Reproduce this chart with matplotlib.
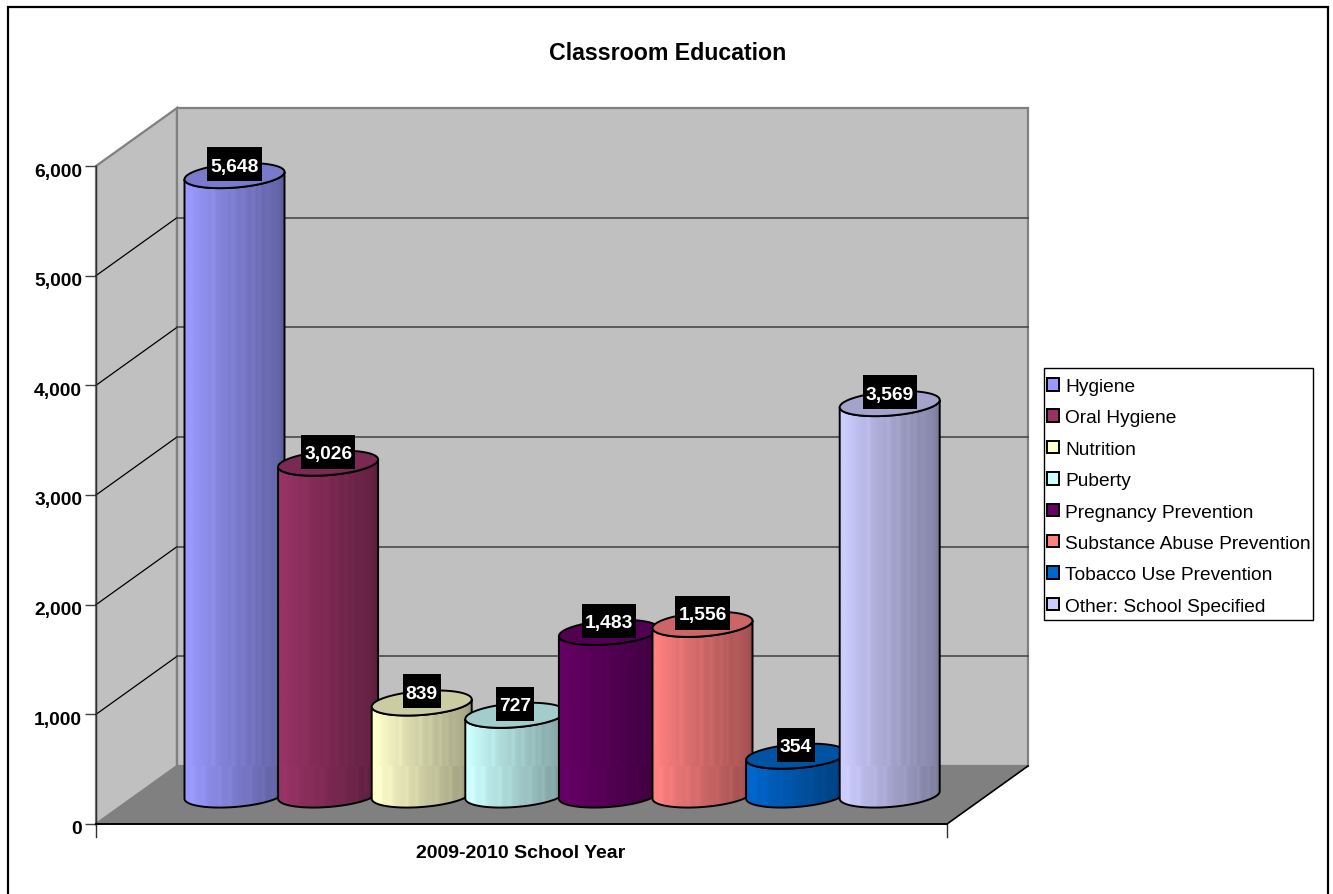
import numpy as np
import matplotlib
matplotlib.use('Agg')
import matplotlib.pyplot as plt
from matplotlib.patches import Polygon, PathPatch, Rectangle, Patch
from matplotlib.path import Path
from matplotlib.transforms import IdentityTransform, ScaledTranslation
from matplotlib.colors import to_rgb

plt.rcParams['font.family'] = ['Liberation Sans', 'DejaVu Sans']

# data
topics = ['Hygiene', 'Oral Hygiene', 'Nutrition', 'Puberty', 'Pregnancy Prevention',
          'Substance Abuse Prevention', 'Tobacco Use Prevention', 'Other: School Specified']
students = [5648, 3026, 839, 727, 1483, 1556, 354, 3569]
colors = ['#9999FF', '#993366', '#FFFFCC', '#CCFFFF', '#660066', '#FF8080', '#0066CC', '#CCCCFF']
y_ticks = [0, 1000, 2000, 3000, 4000, 5000, 6000]

W, H = 1333, 895
DEPTH_X, DEPTH_Y = 81, 58   # how far the back wall sits behind the front plane, px
BAR_SHIFT = 29              # bars stand half way back on the floor
HALF_W, TILT, MINOR = 50, 3.7, 12

fig = plt.figure(figsize=(W / 100, H / 100), dpi=100)
fig.patch.set_facecolor('white')
# chart border, the bottom edge is cut off in the source
fig.add_artist(Rectangle((8 / W, -10 / H), 1320 / W, 897 / H, transform=fig.transFigure,
                         fill=False, edgecolor='black', linewidth=1.6))

ax = fig.add_axes([96 / W, 1 - 825 / H, 851 / W, 658 / H])
ax.set_xlim((96 - 234.5) / 93.6, (947 - 234.5) / 93.6)
ax.set_ylim(0, 6000)
ax.patch.set_visible(False)
for side in ['top', 'right', 'bottom', 'left']:
    ax.spines[side].set_visible(False)
ax.set_yticks(y_ticks)
ax.set_yticklabels([f'{v:,}' for v in y_ticks], fontsize=13.9, fontweight='bold')
ax.tick_params(axis='y', length=8, width=1, color='#404040', pad=2)
ax.set_xticks([])
for lab in ax.get_yticklabels():
    lab.set_transform(lab.get_transform() + ScaledTranslation(0, -3 / 100, fig.dpi_scale_trans))

ident = IdentityTransform()
fig.canvas.draw()


def to_px(i, v):
    return ax.transData.transform((i, v))


x0, y0 = to_px(ax.get_xlim()[0], 0)
x1, y1 = to_px(ax.get_xlim()[1], 6000)


def add_poly(pts, **kw):
    p = Polygon(pts, closed=True, transform=ident, clip_on=False, **kw)
    ax.add_patch(p)
    return p


# walls and floor
add_poly([(x0, y0), (x0 + DEPTH_X, y0 + DEPTH_Y), (x0 + DEPTH_X, y1 + DEPTH_Y), (x0, y1)],
         facecolor='#C0C0C0', edgecolor='#808080', linewidth=1.6, zorder=1)
add_poly([(x0 + DEPTH_X, y0 + DEPTH_Y), (x1 + DEPTH_X, y0 + DEPTH_Y),
          (x1 + DEPTH_X, y1 + DEPTH_Y), (x0 + DEPTH_X, y1 + DEPTH_Y)],
         facecolor='#C0C0C0', edgecolor='#808080', linewidth=1.6, zorder=1)
add_poly([(x0, y0), (x1, y0), (x1 + DEPTH_X, y0 + DEPTH_Y), (x0 + DEPTH_X, y0 + DEPTH_Y)],
         facecolor='#808080', edgecolor='none', zorder=1.5)

# gridlines on both walls
for v in y_ticks[1:-1]:
    _, yy = to_px(0, v)
    ax.plot([x0, x0 + DEPTH_X], [yy, yy + DEPTH_Y], color='black', lw=0.9,
            transform=ident, clip_on=False, zorder=2)
    ax.plot([x0 + DEPTH_X, x1 + DEPTH_X], [yy + DEPTH_Y, yy + DEPTH_Y], color='#404040', lw=1.1,
            transform=ident, clip_on=False, zorder=2)

# front axis lines
ax.plot([x0, x0], [y1, y0 - 13], color='#303030', lw=1, transform=ident, clip_on=False, zorder=2)
ax.plot([x0, x1], [y0, y0], color='black', lw=1.4, transform=ident, clip_on=False, zorder=2)
ax.plot([x1, x1], [y0, y0 - 13], color='#303030', lw=1, transform=ident, clip_on=False, zorder=2)
ax.plot([x1, x1 + DEPTH_X], [y0, y0 + DEPTH_Y], color='black', lw=1.2, transform=ident,
        clip_on=False, zorder=2)

# shading across a cylinder: dark to the right with thin pale stripes
shade = np.array([1, 1, .98, .96, .95, .93, .92, .9, .89, .88, .86, .85, .84, .82, .81, .8,
                  .78, .77, .76, .74, .73, .72, .7, .69, .67, .66, .64, .63, .61, .6])
upper_stripes = [8, 14, 17, 20, 22, 24, 25, 26, 27, 28]
lower_stripes = [2, 5, 10, 13, 19, 23, 26, 28]


def ellipse(cx, cy, t):
    return np.column_stack([cx + HALF_W * np.cos(t), cy + TILT * np.cos(t) + MINOR * np.sin(t)])


def draw_bar(i, value, color, z):
    rgb = np.array(to_rgb(color))
    cx, top = to_px(i, value)
    _, base = to_px(i, 0)
    top, base = top + BAR_SHIFT, base + BAR_SHIFT

    # body outline: down the left side, round the front of the base, up the right side
    t_low = np.linspace(np.pi, 2 * np.pi, 60)
    low = ellipse(cx, base, t_low)
    top_rim = ellipse(cx, top, t_low)
    body = np.vstack([[top_rim[0]], low, [top_rim[-1]], top_rim[::-1]])
    outline = PathPatch(Path(body, closed=False), transform=ident, facecolor='none',
                        edgecolor='black', linewidth=1.4, clip_on=False, zorder=z + .2)

    # striped fill clipped to the body
    img = np.zeros((2, len(shade), 3))
    for r, stripes in enumerate([upper_stripes, lower_stripes]):
        s = shade.copy()
        s[stripes] = s[stripes] + 0.04
        img[r] = np.clip(rgb[None, :] * s[:, None], 0, 1)
    floor_y = y0 + DEPTH_Y
    im_top = top + MINOR + TILT
    im_bot = base - MINOR - TILT
    kw = dict(transform=ident, aspect='auto', interpolation='bilinear', zorder=z)
    if im_top > floor_y:
        parts = [ax.imshow(img[:1], extent=(cx - HALF_W, cx + HALF_W, floor_y, im_top), **kw),
                 ax.imshow(img[1:], extent=(cx - HALF_W, cx + HALF_W, im_bot, floor_y), **kw)]
    else:
        parts = [ax.imshow(img[1:], extent=(cx - HALF_W, cx + HALF_W, im_bot, im_top), **kw)]
    clip = PathPatch(Path(np.vstack([body, body[:1]]), closed=True), transform=ident,
                     facecolor='none', edgecolor='none', clip_on=False)
    ax.add_patch(clip)
    for part in parts:
        part.set_clip_box(fig.bbox)
        part.set_clip_path(clip)
    ax.add_patch(outline)

    # top face
    cap = ellipse(cx, top, np.linspace(0, 2 * np.pi, 100))
    add_poly(cap, facecolor=rgb * 0.8, edgecolor='black', linewidth=1.4, zorder=z + .3)
    return cx, top


renderer = fig.canvas.get_renderer()
tops = []
for i, (v, c) in enumerate(zip(students, colors)):
    tops.append(draw_bar(i, v, c, 3 + i))

# value labels sit in black boxes over each bar top
for v, (cx, top) in zip(students, tops):
    cy = top + 11.5
    t = ax.text(cx, cy, f'{v:,}', transform=ident, ha='center', va='center_baseline', color='white',
                fontsize=13.9, fontweight='bold', zorder=21, clip_on=False)
    w = t.get_window_extent(renderer).width + 6
    ax.add_patch(Rectangle((cx - w / 2, cy - 17), w, 34, transform=ident, facecolor='black',
                           edgecolor='none', clip_on=False, zorder=20))

ax.set_ylim(0, 6000)
ax.set_xlim((96 - 234.5) / 93.6, (947 - 234.5) / 93.6)

fig.text(668 / W, 1 - 54 / H, 'Classroom Education', ha='center', va='center', fontsize=16.7,
         fontweight='bold')
fig.text(521 / W, 1 - 853.5 / H, '2009-2010 School Year', ha='center', va='center', fontsize=14,
         fontweight='bold')

# legend frame is fixed, entries go inside it
fig.add_artist(Rectangle((1044 / W, 1 - 621 / H), 269 / W, 252 / H, transform=fig.transFigure,
                         facecolor='white', edgecolor='black', linewidth=1))
handles = [Patch(facecolor=c, edgecolor='black', linewidth=1.4) for c in colors]
leg = fig.legend(handles, topics, loc='upper left', bbox_to_anchor=(1044 / W, 1 - 376 / H),
                 fontsize=13.8, frameon=False, borderaxespad=0, borderpad=0.16,
                 handlelength=0.62, handleheight=0.62, handletextpad=0.31, labelspacing=0.75)
leg.set_zorder(5)

fig.savefig('out.png', dpi=100)
